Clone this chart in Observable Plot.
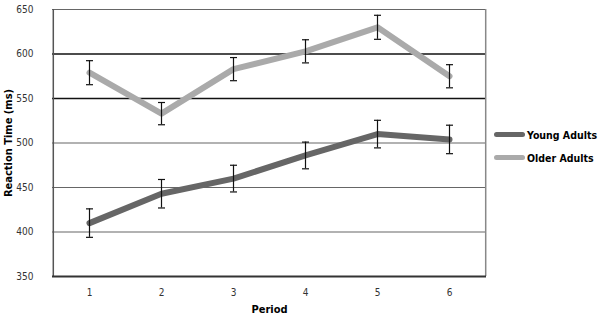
<!DOCTYPE html>
<html>
<head>
<meta charset="utf-8">
<script src="https://cdn.jsdelivr.net/npm/d3@7"></script>
<script src="https://cdn.jsdelivr.net/npm/@observablehq/plot@0.6"></script>
<style>
  html, body { margin: 0; padding: 0; background: #fff; }
  #wrap { position: relative; width: 600px; height: 318px; font-family: "Liberation Sans Narrow", "DejaVu Sans Condensed", "Open Sans", sans-serif; }
  #wrap svg { font-family: "Liberation Sans Narrow", "DejaVu Sans Condensed", "Open Sans", sans-serif; }
  g[aria-label="y-axis label"], g[aria-label="x-axis label"] { font-weight: bold; fill: #000; font-size: 11px; }
  g[aria-label="y-axis tick label"], g[aria-label="x-axis tick label"] { fill: #333; }
  #legend { position: absolute; left: 494px; top: 123px; font-size: 10.5px; font-weight: bold; color: #000; }
  #legend .item { display: flex; align-items: center; height: 23px; }
  #legend .sw { width: 31px; height: 5px; border-radius: 3px; margin-right: 2px; }
</style>
</head>
<body>
<div id="wrap"></div>
<script>
const periods = [1, 2, 3, 4, 5, 6];
const seriesNames = ["Young Adults", "Older Adults"];
const seriesColors = ["#666666", "#aaaaaa"];
const youngMean = [410, 443, 460, 486, 510, 504];
const youngErr  = [16, 16, 15, 15, 15.5, 16];
const olderMean = [579, 533, 583, 603, 630, 575];
const olderErr  = [13.5, 12.5, 13, 13, 13.5, 13];
const yTicks = [350, 400, 450, 500, 550, 600, 650];
const darkGrid = [550, 600];
const lightGrid = [400, 450, 500, 650];

const rows = [];
periods.forEach((p, i) => {
  rows.push({period: p, series: seriesNames[0], mean: youngMean[i], err: youngErr[i]});
  rows.push({period: p, series: seriesNames[1], mean: olderMean[i], err: olderErr[i]});
});

const capSymbol = {
  draw(context) {
    context.moveTo(-3.5, 0);
    context.lineTo(3.5, 0);
  }
};

const chart = Plot.plot({
  width: 600,
  height: 318,
  marginLeft: 52,
  marginRight: 114,
  marginTop: 9,
  marginBottom: 42,
  x: {type: "point", domain: periods, padding: 0.5},
  y: {domain: [350, 650]},
  color: {domain: seriesNames, range: seriesColors},
  marks: [
    Plot.ruleY(lightGrid, {stroke: "#666", strokeWidth: 1.2}),
    Plot.ruleY(darkGrid, {stroke: "#111", strokeWidth: 1.4}),
    Plot.ruleX([periods[periods.length - 1]], {stroke: "#888", strokeWidth: 1.5, dx: 36.2, y1: 350, y2: 650}),
    Plot.ruleX([periods[0]], {stroke: "#555", strokeWidth: 1.5, dx: -36.2, y1: 350, y2: 650}),
    Plot.ruleY([350], {stroke: "#333", strokeWidth: 1.8}),
    Plot.line(rows, {x: "period", y: "mean", z: "series", stroke: "series", strokeWidth: 6, strokeLinecap: "round", strokeLinejoin: "round"}),
    Plot.ruleX(rows, {x: "period", y1: d => d.mean - d.err, y2: d => d.mean + d.err, stroke: "#111", strokeWidth: 1.2}),
    Plot.dot(rows, {x: "period", y: d => d.mean - d.err, symbol: capSymbol, stroke: "#111", strokeWidth: 1.2, fill: "none"}),
    Plot.dot(rows, {x: "period", y: d => d.mean + d.err, symbol: capSymbol, stroke: "#111", strokeWidth: 1.2, fill: "none"}),
    Plot.axisY(yTicks, {tickSize: 0, tickPadding: 19, fontSize: 10, label: "Reaction Time (ms)", labelAnchor: "center", labelArrow: "none", labelOffset: 48}),
    Plot.axisX(periods, {tickSize: 0, tickPadding: 12, fontSize: 10, label: "Period", labelAnchor: "center", labelArrow: "none", labelOffset: 36})
  ]
});

const wrap = document.getElementById("wrap");
wrap.appendChild(chart);

const legend = document.createElement("div");
legend.id = "legend";
seriesNames.forEach((name, i) => {
  const item = document.createElement("div");
  item.className = "item";
  const sw = document.createElement("span");
  sw.className = "sw";
  sw.style.background = seriesColors[i];
  const t = document.createElement("span");
  t.textContent = name;
  item.appendChild(sw);
  item.appendChild(t);
  legend.appendChild(item);
});
wrap.appendChild(legend);
</script>
</body>
</html>
